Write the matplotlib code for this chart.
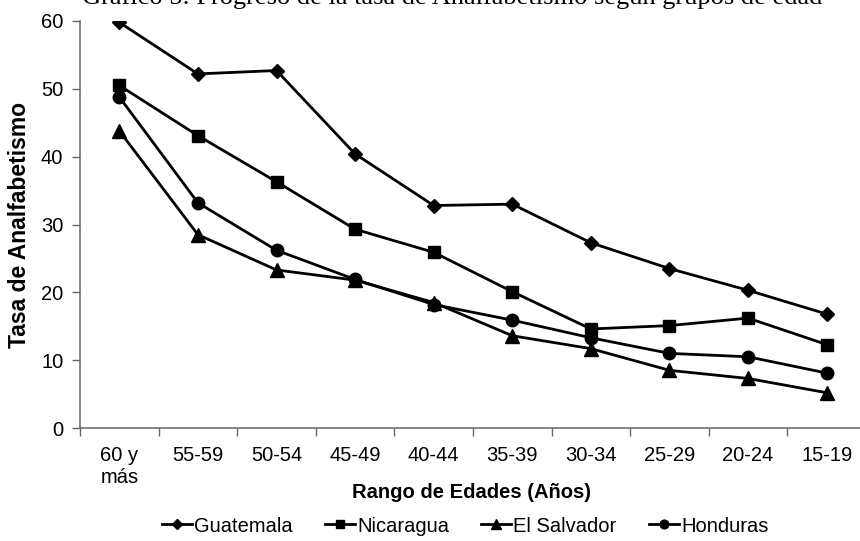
import matplotlib
matplotlib.use('Agg')
from matplotlib import pyplot as plt

# Age groups on the x axis (oldest first, as in the original chart)
age_groups = ['60 y\nmás', '55-59', '50-54', '45-49', '40-44',
              '35-39', '30-34', '25-29', '20-24', '15-19']

guatemala = [59.8, 52.2, 52.7, 40.4, 32.8, 33.0, 27.3, 23.5, 20.3, 16.8]
nicaragua = [50.5, 43.1, 36.3, 29.3, 25.9, 20.1, 14.6, 15.1, 16.2, 12.3]
el_salvador = [43.8, 28.5, 23.3, 21.8, 18.5, 13.6, 11.7, 8.5, 7.3, 5.2]
honduras = [48.8, 33.2, 26.2, 21.9, 18.2, 15.9, 13.3, 11.0, 10.5, 8.1]

y_ticks = [0, 10, 20, 30, 40, 50, 60]


def plot_data():
    plt.rcParams['font.family'] = ['Liberation Sans', 'DejaVu Sans']
    fig = plt.figure(figsize=(8.6, 5.41), dpi=100)
    ax = fig.add_axes([80 / 860, 1 - 428 / 541, 786 / 860, 407 / 541])

    x = range(len(age_groups))
    ax.plot(x, guatemala, color='black', lw=2, marker='D', ms=7.5, label='Guatemala')
    ax.plot(x, nicaragua, color='black', lw=2, marker='s', ms=9, label='Nicaragua')
    ax.plot(x, el_salvador, color='black', lw=2, marker='^', ms=9.5, label='El Salvador')
    ax.plot(x, honduras, color='black', lw=2, marker='o', ms=9, label='Honduras')

    ax.set_xlim(-0.5, len(age_groups) - 0.5)
    ax.set_ylim(0, 60)
    ax.set_yticks(y_ticks)
    ax.set_xticks([i - 0.5 for i in range(len(age_groups) + 1)])
    ax.set_xticklabels([])
    ax.set_xticks(list(x), minor=True)
    ax.set_xticklabels(age_groups, minor=True, fontsize=14.5)
    for t in ax.get_xticklabels(minor=True):
        t.set_multialignment('left')
    ax.tick_params(axis='x', which='minor', length=0, pad=13)
    ax.tick_params(axis='x', which='major', length=6, width=1, color='#666666')
    ax.tick_params(axis='y', length=6, width=1, color='#666666', labelsize=14.5, pad=6)

    for side in ['top', 'right']:
        ax.spines[side].set_visible(False)
    for side in ['left', 'bottom']:
        ax.spines[side].set_color('#666666')
        ax.spines[side].set_linewidth(1.1)

    fig.text(20 / 860, 1 - 225 / 541, 'Tasa de Analfabetismo', fontsize=16.5,
             fontweight='bold', rotation=90, ha='center', va='center')
    fig.text(471 / 860, 1 - 493 / 541, 'Rango de Edades (Años)', fontsize=14.5,
             fontweight='bold', ha='center', va='center')

    fig.text(452 / 860, 1 - 4 / 541,
             'Gráfico 5: Progreso de la tasa de Analfabetismo según grupos de edad',
             family='Liberation Serif', fontsize=19, ha='center', va='baseline')

    fig.legend(loc='center', bbox_to_anchor=(465 / 860, 1 - 526 / 541), ncol=4,
               frameon=False, fontsize=14.5, handlelength=1.5, handletextpad=0.1,
               columnspacing=1.6, markerscale=0.7)

    fig.savefig('out.png', dpi=100)


def main():
    plot_data()


if __name__ == '__main__':
    main()
